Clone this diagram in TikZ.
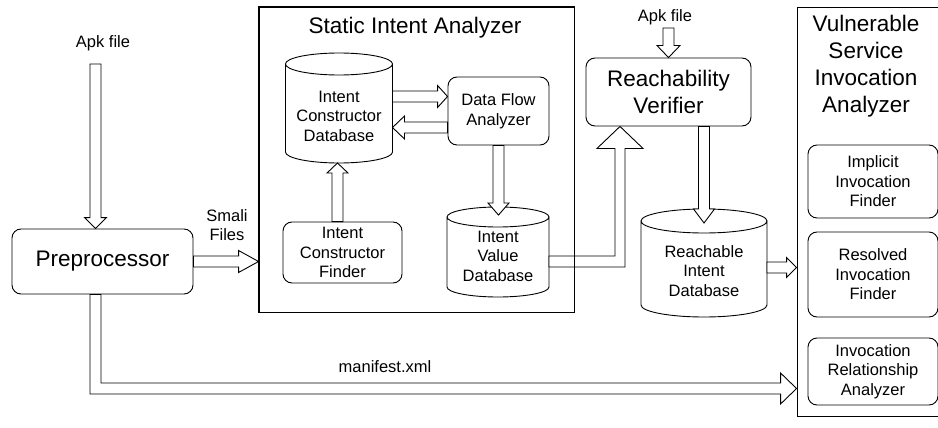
\documentclass[tikz,border=0pt]{standalone}
\usepackage{fontspec}
\setmainfont{Liberation Sans}
\usetikzlibrary{positioning,calc}
\tikzstyle{diagram} = [x = 1pt, y = -1pt, line width = .9pt]
\tikzstyle{boxStyle} = [draw, rounded corners = 9pt, align = center, inner sep = 0pt, font = \fontsize{16.5}{19.5}\selectfont]
\tikzstyle{bigBoxStyle} = [boxStyle, font = \fontsize{22.5}{27}\selectfont]
\tikzstyle{frameStyle} = [draw, inner sep = 0pt]
\tikzstyle{dbStyle} = [inner sep = 0pt, outer sep = 0pt]
\tikzstyle{dbText} = [align = center, font = \fontsize{16.5}{19.5}\selectfont]
\tikzstyle{labelText} = [align = center, font = \fontsize{16.5}{19.5}\selectfont]
\tikzstyle{titleText} = [align = center, font = \fontsize{22.5}{27}\selectfont]
\tikzstyle{hollowArrow} = [draw, fill = white, line join = miter]
\newcommand{\shaftHalf}{5.5}
\newcommand{\dbOutline}[2]{\draw let \p1 = (#1.north west), \p2 = (#1.south east), \n1 = {(\x2 - \x1) / 2} in (\x1, \y1 - #2 pt) -- (\x1, \y2 + #2 pt) arc [start angle = 180, end angle = 360, x radius = \n1, y radius = #2 pt] -- (\x2, \y1 - #2 pt) (\x1 + \n1, \y1 - #2 pt) ellipse [x radius = \n1, y radius = #2 pt];}
\newcommand{\arrowDown}[4]{\draw [hollowArrow] let \p1 = (#1), \p2 = (#2) in (\x1 - \shaftHalf pt, \y1) -- (\x1 - \shaftHalf pt, \y2 + #4 pt) -- (\x1 - #3 pt, \y2 + #4 pt) -- (\x1, \y2) -- (\x1 + #3 pt, \y2 + #4 pt) -- (\x1 + \shaftHalf pt, \y2 + #4 pt) -- (\x1 + \shaftHalf pt, \y1) -- cycle;}
\newcommand{\arrowUp}[4]{\draw [hollowArrow] let \p1 = (#1), \p2 = (#2) in (\x1 - \shaftHalf pt, \y1) -- (\x1 - \shaftHalf pt, \y2 - #4 pt) -- (\x1 - #3 pt, \y2 - #4 pt) -- (\x1, \y2) -- (\x1 + #3 pt, \y2 - #4 pt) -- (\x1 + \shaftHalf pt, \y2 - #4 pt) -- (\x1 + \shaftHalf pt, \y1) -- cycle;}
\newcommand{\arrowRight}[4]{\draw [hollowArrow] let \p1 = (#1), \p2 = (#2) in (\x1, \y1 + \shaftHalf pt) -- (\x2 - #4 pt, \y1 + \shaftHalf pt) -- (\x2 - #4 pt, \y1 + #3 pt) -- (\x2, \y1) -- (\x2 - #4 pt, \y1 - #3 pt) -- (\x2 - #4 pt, \y1 - \shaftHalf pt) -- (\x1, \y1 - \shaftHalf pt) -- cycle;}
\newcommand{\arrowLeft}[4]{\draw [hollowArrow] let \p1 = (#1), \p2 = (#2) in (\x1, \y1 + \shaftHalf pt) -- (\x2 + #4 pt, \y1 + \shaftHalf pt) -- (\x2 + #4 pt, \y1 + #3 pt) -- (\x2, \y1) -- (\x2 + #4 pt, \y1 - #3 pt) -- (\x2 + #4 pt, \y1 - \shaftHalf pt) -- (\x1, \y1 - \shaftHalf pt) -- cycle;}
\begin{document}
\begin{tikzpicture}[diagram]
  \useasboundingbox (0,0) rectangle (938,428);
  \node [frameStyle, minimum width = 315pt, minimum height = 305pt] (sia) at (416.5,159.5) {};
  \node [titleText] (siaTitle) at (415,28) {Static Intent Analyzer};
  \node [frameStyle, minimum width = 151pt, minimum height = 409pt] (vsia) at (872.5,211.5) {};
  \node [titleText] (vsiaTitle) at (866,66) {Vulnerable\\Service\\Invocation\\Analyzer};

  \node [bigBoxStyle, minimum width = 181pt, minimum height = 65pt] (pre) at (102.5,261.5) {Preprocessor};
  \node [labelText] (apkLabel) at (103,43) {Apk file};
  \node [labelText] (smaliLabel) at (227,225) {Smali\\Files};
  \node [labelText] (manifestLabel) at (385,367) {manifest.xml};

  \node [dbStyle, minimum width = 107pt, minimum height = 110pt, label = {[dbText, yshift = -8pt]center:Intent\\Constructor\\Database}] (icd) at (339,108) {};
  \node [boxStyle, minimum width = 101pt, minimum height = 68pt] (dfa) at (498.5,111) {Data Flow\\Analyzer};
  \node [boxStyle, minimum width = 119pt, minimum height = 61pt] (icf) at (342.5,252.5) {Intent\\Constructor\\Finder};
  \node [dbStyle, minimum width = 102pt, minimum height = 90pt, label = {[dbText, yshift = -4pt]center:Intent\\Value\\Database}] (ivd) at (498,252) {};

  \node [bigBoxStyle, minimum width = 165pt, minimum height = 68pt] (rv) at (668.5,92) {Reachability\\Verifier};
  \node [labelText] (apkLabelTwo) at (665,17) {Apk file};
  \node [dbStyle, minimum width = 126pt, minimum height = 108pt, label = {[dbText, yshift = -8pt]center:Reachable\\Intent\\Database}] (rid) at (704,263) {};

  \node [boxStyle, minimum width = 130pt, minimum height = 73pt] (iif) at (873,181.5) {Implicit\\Invocation\\Finder};
  \node [boxStyle, minimum width = 130pt, minimum height = 85pt] (rif) at (873,274.5) {Resolved\\Invocation\\Finder};
  \node [boxStyle, minimum width = 130pt, minimum height = 67pt] (ira) at (873,371.5) {Invocation\\Relationship\\Analyzer};

  \dbOutline{icd}{11}
  \dbOutline{ivd}{10}
  \dbOutline{rid}{12}

  \coordinate (apkIn) at (95.5,64);
  \coordinate (apkInTwo) at (668.5,28);
  \coordinate (icdOut) at ($(icd.east)+(0,-11.5)$);
  \coordinate (dfaBack) at ($(dfa.west)+(0,16.5)$);
  \coordinate (icfOut) at ($(icf.north)+(-5,0)$);
  \coordinate (ridOut) at ($(rid.east)+(0,4.5)$);
  \coordinate (manifestBend) at (95.5,388.5);
  \coordinate (ivdBend) at (620,261.5);

  \arrowDown{apkIn}{apkIn |- pre.north}{11}{11}
  \arrowRight{pre.east}{pre.east -| sia.west}{11}{20}
  \arrowRight{icdOut}{icdOut -| dfa.west}{11}{10}
  \arrowLeft{dfaBack}{dfaBack -| icd.east}{11.5}{12}
  \arrowUp{icfOut}{icfOut |- icd.south}{10.5}{10}
  \arrowDown{dfa.south}{$(ivd.north)+(0,8)$}{10.5}{12}
  \arrowDown{apkInTwo}{rv.north}{11.5}{12}
  \arrowDown{rid.north |- rv.south}{$(rid.north)+(0,14)$}{10.5}{14}
  \arrowRight{ridOut}{ridOut -| vsia.west}{10}{10}
  \draw [hollowArrow] let \p1 = (manifestBend |- pre.south), \p2 = (manifestBend), \p3 = (manifestBend -| vsia.west) in (\x1 - 5.5pt, \y1) -- (\x1 - 5.5pt, \y2 - 5.5pt) -- (\x3 - 16pt, \y2 - 5.5pt) -- (\x3 - 16pt, \y2 - 15.5pt) -- (\x3, \y2) -- (\x3 - 16pt, \y2 + 15.5pt) -- (\x3 - 16pt, \y2 + 5.5pt) -- (\x1 + 5.5pt, \y2 + 5.5pt) -- (\x1 + 5.5pt, \y1) -- cycle;
  \draw [hollowArrow] let \p1 = (ivd.east |- ivdBend), \p2 = (ivdBend), \p3 = (ivdBend |- rv.south) in (\x1, \y2 + 5.5pt) -- (\x2 - 5pt, \y2 + 5.5pt) -- (\x2 - 5pt, \y3 - 22pt) -- (\x2 - 23pt, \y3 - 22pt) -- (\x2, \y3) -- (\x2 + 23pt, \y3 - 22pt) -- (\x2 + 5pt, \y3 - 22pt) -- (\x2 + 5pt, \y2 - 5.5pt) -- (\x1, \y2 - 5.5pt) -- cycle;
  \draw (sia.north west) rectangle (sia.south east);
\end{tikzpicture}
\end{document}
